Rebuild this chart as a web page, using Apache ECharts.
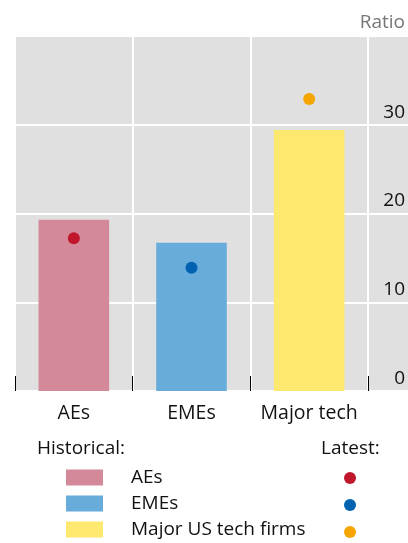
<!DOCTYPE html>
<html><head><meta charset="utf-8">
<script src="https://cdn.jsdelivr.net/npm/echarts@6/dist/echarts.min.js"></script>
<style>html,body{margin:0;padding:0;background:#fff}#c{width:408px;height:543px}</style>
</head><body><div id="c"></div>
<script>
const categories = ['AEs', 'EMEs', 'Major tech'];
const seriesNames = ['AEs', 'EMEs', 'Major US tech firms'];
const historical = [19.3, 16.7, 29.4];
const latest = [17.2, 13.9, 32.9];
const yTicks = [0, 10, 20, 30, 40];

const barColors = ['#d3899a', '#67acdb', '#fde870'];
const dotColors = ['#c0172c', '#0062b0', '#f6a500'];
const FONT = 'Open Sans';
const FS = 19;

const chart = echarts.init(document.getElementById('c'));
const only = (arr, i) => arr.map((v, j) => j === i ? v : '-');

const series = [];
seriesNames.forEach((n, i) => {
  series.push({
    name: n, type: 'bar', stack: 'hist', xAxisIndex: 1, yAxisIndex: 1,
    barWidth: '60%', data: only(historical, i),
    itemStyle: { color: barColors[i] }, z: 3
  });
});
seriesNames.forEach((n, i) => {
  series.push({
    name: 'Latest ' + n, type: 'scatter', xAxisIndex: 1, yAxisIndex: 1,
    symbolSize: 12, data: only(latest, i),
    itemStyle: { color: dotColors[i], opacity: 1 }, z: 4
  });
});

chart.setOption({
  animation: false,
  textStyle: { fontFamily: FONT },
  grid: [
    { left: 15, right: 0, top: 36, bottom: 152, show: true, backgroundColor: '#dfe0df', borderWidth: 0 },
    { left: 15, right: 40, top: 36, bottom: 152 }
  ],
  xAxis: [
    { gridIndex: 0, type: 'value', show: false, min: 0, max: 1 },
    { gridIndex: 1, type: 'category', data: categories,
      axisLine: { show: false },
      axisTick: { show: true, inside: true, length: 15, interval: 0, lineStyle: { color: '#000', width: 1 } },
      splitLine: { show: true, interval: 0, lineStyle: { color: '#ffffff', width: 2 } },
      axisLabel: { color: '#111', fontSize: 19.5, margin: 12, interval: 0, fontFamily: FONT } }
  ],
  yAxis: [
    { gridIndex: 0, type: 'value', min: yTicks[0], max: yTicks[yTicks.length - 1], interval: 10,
      axisLine: { show: false }, axisTick: { show: false }, axisLabel: { show: false },
      splitLine: { show: true, lineStyle: { color: '#ffffff', width: 2 } } },
    { gridIndex: 1, type: 'value', position: 'right', min: yTicks[0], max: yTicks[yTicks.length - 1], interval: 10,
      axisLine: { show: false }, axisTick: { show: false }, splitLine: { show: false },
      axisLabel: { color: '#111', fontSize: FS, align: 'right', margin: 37, verticalAlign: 'bottom',
        padding: [0, 0, 3, 0], fontFamily: FONT,
        formatter: v => v === 40 ? '' : String(v) } }
  ],
  legend: [
    { data: seriesNames, orient: 'vertical', left: 66, top: 468, height: 200, padding: 0,
      itemWidth: 37, itemHeight: 16, itemGap: 7,
      icon: 'rect', selectedMode: false,
      textStyle: { fontSize: FS, color: '#111', fontFamily: FONT, padding: [0, 0, 0, 23] } },
    { data: seriesNames.map(n => 'Latest ' + n), orient: 'vertical', left: 344, top: 472, height: 200, padding: 0,
      itemWidth: 12, itemHeight: 12,
      itemGap: 15, icon: 'circle', selectedMode: false, formatter: () => '',
      textStyle: { fontSize: 1, lineHeight: 12 } }
  ],
  graphic: [
    { type: 'text', right: 3, top: 13, style: { text: 'Ratio', fill: '#767676', font: FS + 'px "Open Sans"' } },
    { type: 'text', left: 37, top: 439, style: { text: 'Historical:', fill: '#111', font: FS + 'px "Open Sans"' } },
    { type: 'text', left: 321, top: 439, style: { text: 'Latest:', fill: '#111', font: FS + 'px "Open Sans"' } }
  ],
  series: series
});
</script></body></html>
